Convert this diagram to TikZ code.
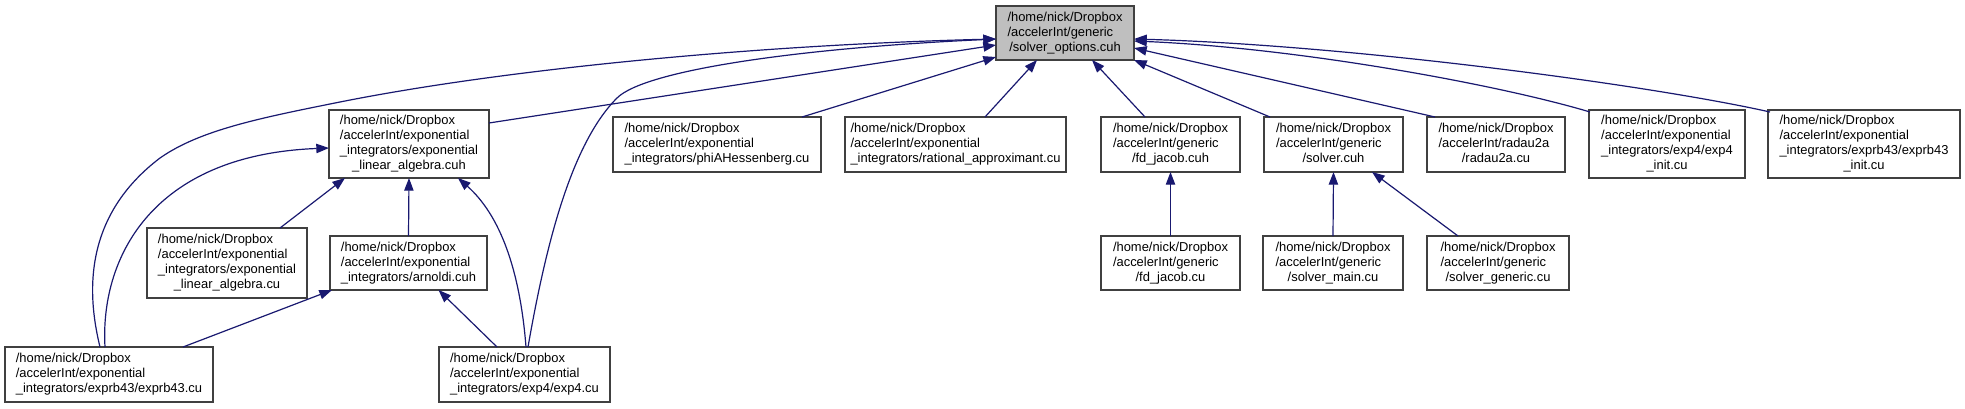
\documentclass[tikz,border=0pt]{standalone}
\usepackage{fontspec}
\setmainfont{Liberation Sans}
\usetikzlibrary{arrows.meta}
\definecolor{edgeblue}{HTML}{191970}
\definecolor{rootgray}{HTML}{BFBFBF}
\definecolor{boxline}{HTML}{404040}
\newcommand\lbl[2]{\begin{tabular}{@{}l@{}}#1\\\multicolumn{1}{@{}c@{}}{#2}\end{tabular}}
\newcommand\bx[7][]{\node[nodebox,#1,minimum width={(#5-#3)*0.75pt},minimum height={(#6-#4)*0.75pt}] (#2) at ({(#3+#5)/2},{(#4+#6)/2}) {#7};}
\begin{document}
\begin{tikzpicture}[x=0.75pt,y=-0.75pt,
  nodebox/.style={draw=boxline,line width=1pt,fill=white,inner sep=0pt,outer sep=0pt,
    font=\fontsize{9.7}{11.25}\selectfont},
  edge/.style={draw=edgeblue,line width=0.9pt,-{Triangle[length=9.5pt,width=7pt,fill=edgeblue]}}]
\fill[white] (0,0) rectangle (1965,408);
\useasboundingbox (0,0) rectangle (1965,408);
% nodes
\bx[fill=rootgray]{root}{996}{6}{1134}{60}{\lbl{/home/nick/Dropbox\\/accelerInt/generic}{/solver\_options.cuh}}
\bx{elah}{329}{110}{489}{178}{\lbl{/home/nick/Dropbox\\/accelerInt/exponential\\\_integrators/exponential}{\_linear\_algebra.cuh}}
\bx{phi}{613}{117}{821}{172}{\lbl{/home/nick/Dropbox\\/accelerInt/exponential}{\_integrators/phiAHessenberg.cu}}
\bx{rat}{845}{117}{1066}{172}{\lbl{/home/nick/Dropbox\\/accelerInt/exponential}{\_integrators/rational\_approximant.cu}}
\bx{fdh}{1101}{117}{1240}{172}{\lbl{/home/nick/Dropbox\\/accelerInt/generic}{/fd\_jacob.cuh}}
\bx{solh}{1264}{117}{1403}{172}{\lbl{/home/nick/Dropbox\\/accelerInt/generic}{/solver.cuh}}
\bx{rad}{1427}{117}{1565}{172}{\lbl{/home/nick/Dropbox\\/accelerInt/radau2a}{/radau2a.cu}}
\bx{e4i}{1589}{110}{1745}{178}{\lbl{/home/nick/Dropbox\\/accelerInt/exponential\\\_integrators/exp4/exp4}{\_init.cu}}
\bx{e43i}{1768}{110}{1960}{178}{\lbl{/home/nick/Dropbox\\/accelerInt/exponential\\\_integrators/exprb43/exprb43}{\_init.cu}}
\bx{elacu}{147}{228}{307}{298}{\lbl{/home/nick/Dropbox\\/accelerInt/exponential\\\_integrators/exponential}{\_linear\_algebra.cu}}
\bx{arn}{330}{236}{487}{290}{\lbl{/home/nick/Dropbox\\/accelerInt/exponential}{\_integrators/arnoldi.cuh}}
\bx{fdcu}{1101}{236}{1240}{290}{\lbl{/home/nick/Dropbox\\/accelerInt/generic}{/fd\_jacob.cu}}
\bx{smain}{1263}{236}{1403}{290}{\lbl{/home/nick/Dropbox\\/accelerInt/generic}{/solver\_main.cu}}
\bx{sgen}{1427}{236}{1569}{290}{\lbl{/home/nick/Dropbox\\/accelerInt/generic}{/solver\_generic.cu}}
\bx{e43}{5}{347}{213}{402}{\lbl{/home/nick/Dropbox\\/accelerInt/exponential}{\_integrators/exprb43/exprb43.cu}}
\bx{e4}{439}{347}{610}{402}{\lbl{/home/nick/Dropbox\\/accelerInt/exponential}{\_integrators/exp4/exp4.cu}}
% edges to root
\draw[edge] ([shift={(95,0)}]e43.north west) .. controls (86,290) and (85,215) .. (160,158)
  .. controls (200,130) and (260,118) .. (340,102)
  .. controls (500,70) and (750,45) .. ([shift={(0,6)}]root.west);
\draw[edge] ([shift={(89,0)}]e4.north west) .. controls (545,250) and (570,145) .. (617,98)
  .. controls (645,70) and (800,48) .. ([shift={(0,6)}]root.west);
\draw[edge] ([shift={(0,-21)}]elah.east) -- ([shift={(0,12)}]root.west);
\draw[edge] ([shift={(85,0)}]phi.north) -- ([shift={(0,-3)}]root.south west);
\draw[edge] ([shift={(29.5,0)}]rat.north) -- ([shift={(-28,0)}]root.south);
\draw[edge] ([shift={(-25.5,0)}]fdh.north) -- ([shift={(27,0)}]root.south);
\draw[edge] ([shift={(6,0)}]solh.north west) -- (root.south east);
\draw[edge] ([shift={(8,0)}]rad.north west) -- ([shift={(0,15)}]root.east);
\draw[edge] ([shift={(1,2)}]e4i.north west) .. controls (1500,85) and (1300,48) .. ([shift={(0,8)}]root.east);
\draw[edge] ([shift={(2,2)}]e43i.north west) .. controls (1650,85) and (1350,45) .. ([shift={(0,6)}]root.east);
% other edges
\draw[edge] ([shift={(53,0)}]elacu.north) -- ([shift={(16,0)}]elah.south west);
\draw[edge] (arn.north) -- (elah.south);
\draw[edge] ([shift={(87,0)}]e4.north west) .. controls (520,270) and (500,215) .. ([shift={(-31,0)}]elah.south east);
\draw[edge] ([shift={(100,0)}]e43.north west) .. controls (100,260) and (150,155) .. ([shift={(0,4)}]elah.west);
\draw[edge] ([shift={(178,0)}]e43.north west) -- ([shift={(2,0)}]arn.south west);
\draw[edge] ([shift={(58,0)}]e4.north west) -- ([shift={(30,0)}]arn.south);
\draw[edge] (fdcu.north) -- (fdh.south);
\draw[edge] (smain.north) -- (solh.south);
\draw[edge] ([shift={(31,0)}]sgen.north west) -- ([shift={(38.5,0)}]solh.south);
\end{tikzpicture}
\end{document}
